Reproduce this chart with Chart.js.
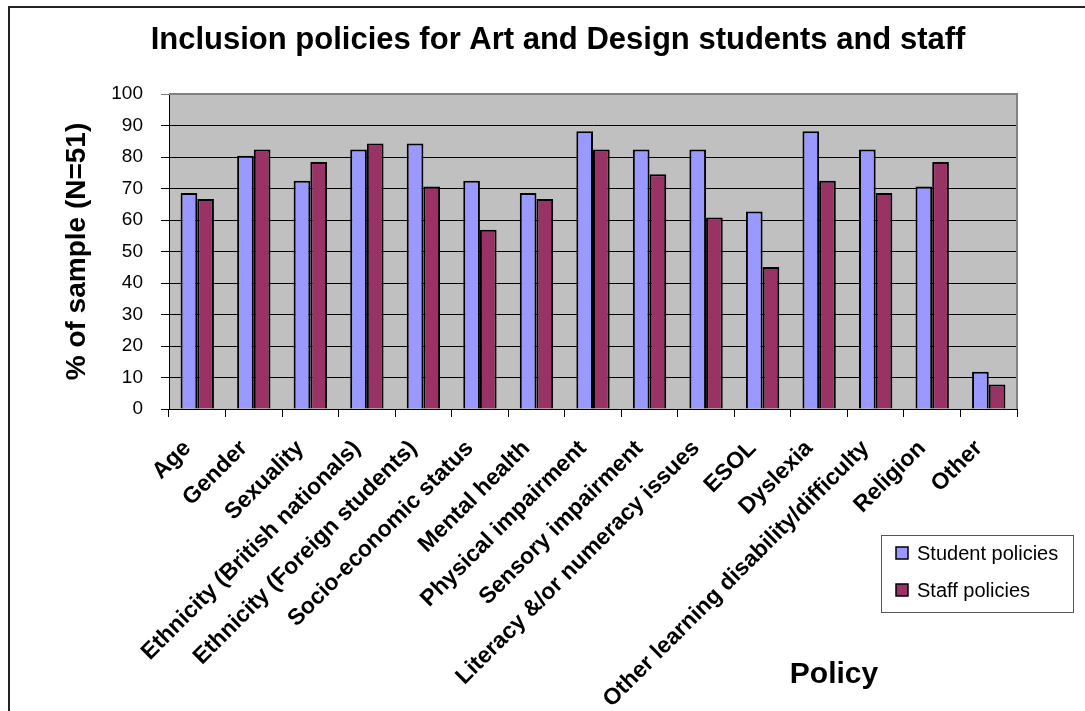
<!DOCTYPE html>
<html lang="en">
<head>
    <meta charset="UTF-8">
    <title>Inclusion policies for Art and Design students and staff</title>
    <script src="https://cdn.jsdelivr.net/npm/chart.js"></script>
    <style>
        body { margin: 0; background: #ffffff; }
        canvas { display: block; }
    </style>
</head>
<body>
    <canvas id="myChart" width="1085" height="711"></canvas>

    <script>
        // Policy categories (x axis)
        const categories = [
            'Age', 'Gender', 'Sexuality', 'Ethnicity (British nationals)',
            'Ethnicity (Foreign students)', 'Socio-economic status', 'Mental health',
            'Physical impairment', 'Sensory impairment', 'Literacy &/or numeracy issues',
            'ESOL', 'Dyslexia', 'Other learning disability/difficulty', 'Religion', 'Other'
        ];
        // % of sample (N=51)
        const studentPolicies = [68.6, 80.4, 72.5, 82.4, 84.3, 72.5, 68.6, 88.2, 82.4, 82.4, 62.7, 88.2, 82.4, 70.6, 11.8];
        const staffPolicies = [66.7, 82.4, 78.4, 84.3, 70.6, 56.9, 66.7, 82.4, 74.5, 60.8, 45.1, 72.5, 68.6, 78.4, 7.8];
        const yTicks = [0, 10, 20, 30, 40, 50, 60, 70, 80, 90, 100];

        const chartTitle = 'Inclusion policies for Art and Design students and staff';
        const FONT = '"Liberation Sans", Arial, sans-serif';

        // grey plot background, outer frame, plot border, title, legend and x title
        const excelLook = {
            id: 'excelLook',
            beforeDraw(chart) {
                const ctx = chart.ctx;
                const a = chart.chartArea;
                ctx.save();
                ctx.fillStyle = '#c0c0c0';
                ctx.fillRect(a.left, a.top, a.right - a.left, a.bottom - a.top);
                // frame (left and top edges)
                ctx.strokeStyle = '#222';
                ctx.lineWidth = 2;
                ctx.beginPath();
                ctx.moveTo(9, chart.height);
                ctx.lineTo(9, 7);
                ctx.lineTo(chart.width, 7);
                ctx.stroke();
                ctx.restore();
            },
            afterDraw(chart) {
                const ctx = chart.ctx;
                const a = chart.chartArea;
                ctx.save();
                ctx.strokeStyle = '#808080';
                ctx.lineWidth = 2;
                ctx.beginPath();
                ctx.moveTo(a.left, a.top);
                ctx.lineTo(a.right, a.top);
                ctx.lineTo(a.right, a.bottom);
                ctx.stroke();

                ctx.fillStyle = '#000';
                ctx.textAlign = 'center';
                ctx.textBaseline = 'alphabetic';
                // chart title
                ctx.font = 'bold 31px ' + FONT;
                ctx.fillText(chartTitle, 558, 49);
                // x axis title
                ctx.font = 'bold 30px ' + FONT;
                ctx.fillText('Policy', 834, 683);

                // legend box
                ctx.fillStyle = '#fff';
                ctx.fillRect(881, 535, 192, 77);
                ctx.strokeStyle = '#555';
                ctx.lineWidth = 1;
                ctx.strokeRect(881.5, 535.5, 192, 77);
                ctx.font = '20px ' + FONT;
                ctx.textAlign = 'left';
                chart.data.datasets.forEach((ds, i) => {
                    const y = 547 + i * 37;
                    ctx.fillStyle = ds.backgroundColor;
                    ctx.fillRect(896, y, 12, 12);
                    ctx.strokeStyle = '#000';
                    ctx.lineWidth = 1.5;
                    ctx.strokeRect(896, y, 12, 12);
                    ctx.fillStyle = '#000';
                    ctx.fillText(ds.label, 917, y + 13);
                });
                ctx.restore();
            }
        };

        const ctx = document.getElementById('myChart').getContext('2d');
        const myChart = new Chart(ctx, {
            type: 'bar',
            data: {
                labels: categories,
                datasets: [
                    {
                        label: 'Student policies',
                        data: studentPolicies,
                        backgroundColor: '#9999ff',
                        borderColor: '#000',
                        borderWidth: 2,
                        categoryPercentage: 0.59,
                        barPercentage: 1.0
                    },
                    {
                        label: 'Staff policies',
                        data: staffPolicies,
                        backgroundColor: '#993366',
                        borderColor: '#000',
                        borderWidth: 2,
                        categoryPercentage: 0.59,
                        barPercentage: 1.0
                    }
                ]
            },
            options: {
                responsive: false,
                animation: false,
                layout: { padding: { left: 0, right: 68, top: 94, bottom: 0 } },
                plugins: {
                    legend: { display: false },
                    tooltip: { enabled: false },
                    title: { display: false }
                },
                scales: {
                    x: {
                        grid: {
                            offset: true,
                            drawOnChartArea: false,
                            drawTicks: true,
                            tickLength: 8,
                            color: '#000'
                        },
                        border: { color: '#000', width: 1 },
                        ticks: {
                            autoSkip: false,
                            minRotation: 45,
                            maxRotation: 45,
                            padding: 18,
                            labelOffset: -10,
                            color: '#000',
                            font: { family: FONT, size: 23, weight: 'bold' }
                        },
                        afterFit(axis) { axis.height = 302; }
                    },
                    y: {
                        min: 0,
                        max: 100,
                        afterBuildTicks(axis) { axis.ticks = yTicks.map(v => ({ value: v })); },
                        grid: {
                            color: ctx => ctx.tick && ctx.tick.value === 100 ? '#808080' : '#000',
                            lineWidth: 1,
                            tickLength: 8
                        },
                        border: { color: '#000', width: 1 },
                        ticks: {
                            padding: 18,
                            color: '#000',
                            font: { family: FONT, size: 19 }
                        },
                        title: {
                            display: true,
                            text: '% of sample (N=51)',
                            color: '#000',
                            font: { family: FONT, size: 28, weight: 'bold' },
                            padding: { top: 60, bottom: 0 }
                        },
                        afterFit(axis) { axis.width = 169; }
                    }
                }
            },
            plugins: [excelLook]
        });
    </script>
</body>
</html>
